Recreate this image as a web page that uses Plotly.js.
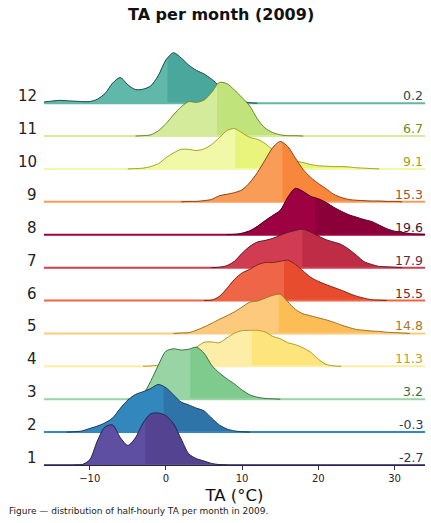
<!DOCTYPE html>
<html><head><meta charset="utf-8">
<script src="https://cdn.plot.ly/plotly-3.0.1.min.js"></script>
<style>html,body{margin:0;padding:0;background:#fff}#chart{width:431px;height:523px}</style>
</head><body><div id="chart"></div>
<script>
// Air temperature grid (°C) on which each month's density was read
const temps = [-16,-15,-14,-13,-12,-11,-10,-9,-8,-7,-6,-5,-4,-3,-2,-1,0,1,2,3,4,5,6,7,8,9,10,11,12,13,14,15,16,17,18,19,20,21,22,23,24,25,26,27,28,29,30,31,32,33,34];
const months = ["1","2","3","4","5","6","7","8","9","10","11","12"];
const meanTA = [-2.7,-0.3,3.2,11.3,14.8,15.5,17.9,19.6,15.3,9.1,6.7,0.2];

// Density of half-hourly TA, in % of the month's records per °C
const dens01 = [0,0,0,0,0,0.1,1.3,6.0,9.5,10.0,6.9,4.9,6.8,10.5,12.8,13.0,12.3,10.3,6.5,2.8,1.6,1.0,0.4,0.1,0,0,0,0,0,0,0,0,0,0,0,0,0,0,0,0,0,0,0,0,0,0,0,0,0,0,0];
const dens02 = [0,0,0,0,0.1,0.3,0.9,1.5,2.3,3.5,5.9,8.0,9.4,10.1,10.9,11.9,11.1,9.3,7.5,6.8,6.0,5.3,3.5,1.8,0.8,0.3,0.1,0,0,0,0,0,0,0,0,0,0,0,0,0,0,0,0,0,0,0,0,0,0,0,0];
const dens03 = [0,0,0,0,0,0,0,0,0,0,0,0,0.3,1.3,4.5,8.5,12.0,12.6,12.3,12.5,13.0,11.5,8.5,6.6,5.1,3.8,2.3,1.1,0.5,0.2,0.1,0,0,0,0,0,0,0,0,0,0,0,0,0,0,0,0,0,0,0,0];
const dens04 = [0,0,0,0,0,0,0,0,0,0,0,0,0,0,0.1,0.3,0.8,1.5,2.5,3.8,4.8,6.0,6.1,5.9,7.1,8.3,8.9,9.0,9.0,8.6,7.5,6.9,5.9,5.4,4.6,3.5,1.8,0.5,0.1,0,0,0,0,0,0,0,0,0,0,0,0];
const dens05 = [0,0,0,0,0,0,0,0,0,0,0,0,0,0,0,0,0,0,0.1,0.2,0.8,1.6,2.5,3.5,4.4,5.4,6.6,7.8,8.1,8.8,9.5,9.8,7.9,6.0,4.9,4.4,3.9,3.4,2.8,2.1,1.5,1.0,0.8,0.6,0.5,0.3,0.2,0.1,0,0,0];
const dens06 = [0,0,0,0,0,0,0,0,0,0,0,0,0,0,0,0,0,0,0,0,0,0,0.1,1.0,3.0,5.3,6.9,7.8,8.9,9.5,9.5,9.8,10.1,9.0,7.4,5.8,4.8,4.0,3.3,2.6,1.8,1.1,0.6,0.2,0.1,0,0,0,0,0,0];
const dens07 = [0,0,0,0,0,0,0,0,0,0,0,0,0,0,0,0,0,0,0,0,0,0,0,0.1,0.5,1.6,3.6,5.3,6.4,6.8,7.3,8.1,8.8,9.3,9.6,8.9,7.9,7.0,6.4,5.8,4.6,3.1,1.5,0.8,0.3,0.2,0.1,0,0,0,0];
const dens08 = [0,0,0,0,0,0,0,0,0,0,0,0,0,0,0,0,0,0,0,0,0,0,0,0,0,0.1,0.4,1.0,2.1,3.5,4.8,6.1,9.4,11.6,10.8,9.6,9.0,8.1,6.9,5.9,5.0,4.4,3.8,3.3,2.4,1.5,0.9,0.6,0.3,0.2,0.1];
const dens09 = [0,0,0,0,0,0,0,0,0,0,0,0,0,0,0,0,0,0,0,0.1,0.1,0.3,0.6,1.5,1.9,2.3,3.0,4.8,7.3,10.4,13.5,15.1,13.8,10.9,8.1,6.1,4.6,3.3,1.9,1.1,0.6,0.4,0.3,0.2,0.2,0.1,0.1,0,0,0,0];
const dens10 = [0,0,0,0,0,0,0,0,0,0,0,0,0.1,0.2,0.6,1.3,2.8,4.0,4.9,4.9,4.6,5.0,6.1,7.8,9.6,10.1,9.0,7.9,7.4,6.4,4.8,3.6,2.8,2.0,1.6,1.1,0.8,0.7,0.6,0.6,0.5,0.3,0.2,0.1,0,0,0,0,0,0,0];
const dens11 = [0,0,0,0,0,0,0,0,0,0,0,0,0,0.1,0.3,1.3,3.1,5.3,7.3,8.6,8.4,9.0,10.9,13.4,13.1,11.5,9.6,7.5,4.3,2.0,0.9,0.3,0.1,0.1,0,0,0,0,0,0,0,0,0,0,0,0,0,0,0,0,0];
const dens12 = [0.3,0.5,0.7,0.6,0.5,0.4,0.4,1.0,2.4,5.0,6.4,4.6,3.4,3.5,4.3,6.9,10.8,12.6,11.3,9.5,8.2,7.3,6.0,4.3,2.5,1.3,0.5,0.1,0,0,0,0,0,0,0,0,0,0,0,0,0,0,0,0,0,0,0,0,0,0,0];

const densities = [dens01,dens02,dens03,dens04,dens05,dens06,dens07,dens08,dens09,dens10,dens11,dens12];

// styling
const lightColors = ["#5e4fa2","#3288bd","#99d5a4","#feeda6","#fdca7d","#ef6548","#d23c52","#9e0142","#f99c58","#f1f8a8","#d3eb9a","#5fb8a9"];
const darkColors  = ["#534391","#2e74a8","#7ecb8d","#fee47c","#fcbc56","#e84c2e","#be2c46","#8b0039","#f8873b","#e9f47c","#c1e37b","#4aa79c"];
const lineColors  = ["#2a2547","#1d3a57","#3d7048","#b49c1e","#9a7224","#7a2616","#5e1a26","#4a0021","#8a4216","#9ea61c","#6a8a26","#1f4a46"];
const labelColors = ["#33304f","#24405e","#3a7043","#c0a02a","#a8782a","#7a2a25","#6b2a38","#4b1530","#a0522d","#a0a01a","#6b8e23","#2a4d4a"];

const K = 0.1216;      // rows per (%/°C)
const SM = 0.8;
const traces = [];
const annotations = [];
const tmin = temps[0], tmax = temps[temps.length-1];

for (let i = 11; i >= 0; i--) {
  const off = i;
  const d = densities[i];
  const yCurve = d.map(v => off + v * K);
  const base = temps.map(() => off);
  const common = {hoverinfo: 'skip', showlegend: false, mode: 'lines'};
  // full ridge (right/darker colour)
  traces.push(Object.assign({x: temps, y: base, line: {width: 0, color: 'rgba(0,0,0,0)'}}, common));
  traces.push(Object.assign({x: temps, y: yCurve, fill: 'tonexty', fillcolor: darkColors[i],
    line: {width: 0, color: 'rgba(0,0,0,0)', shape: 'spline', smoothing: SM}}, common));
  // left of mean (lighter colour)
  const m = meanTA[i];
  const lx = [], ly = [];
  for (let j = 0; j < temps.length; j++) {
    if (temps[j] < m) { lx.push(temps[j]); ly.push(yCurve[j]); }
    else {
      const t0 = temps[j-1], t1 = temps[j];
      const v = d[j-1] + (d[j] - d[j-1]) * (m - t0) / (t1 - t0);
      lx.push(m); ly.push(off + v * K);
      break;
    }
  }
  traces.push(Object.assign({x: [tmin, m], y: [off, off], line: {width: 0, color: 'rgba(0,0,0,0)'}}, common));
  traces.push(Object.assign({x: lx, y: ly, fill: 'tonexty', fillcolor: lightColors[i],
    line: {width: 0, color: 'rgba(0,0,0,0)', shape: 'spline', smoothing: SM}}, common));
  // baseline in ridge colour
  traces.push(Object.assign({x: [tmin, tmax], y: [off, off], line: {width: 2, color: lightColors[i]}}, common));
  // outline over the data range
  let a = 0, b = temps.length - 1;
  while (a < temps.length - 1 && d[a+1] === 0 && d[a] === 0) a++;
  while (b > 0 && d[b-1] === 0 && d[b] === 0) b--;
  traces.push(Object.assign({x: temps.slice(a, b+1), y: yCurve.slice(a, b+1),
    line: {width: 1, color: lineColors[i], shape: 'spline', smoothing: SM}}, common));

  annotations.push({xref: 'paper', yref: 'y', x: -0.012, y: off, xanchor: 'right', yanchor: 'bottom', yshift: -4,
    text: months[i], showarrow: false, font: {family: 'DejaVu Sans', size: 15, color: '#222'}});
  annotations.push({xref: 'paper', yref: 'y', x: 1.0, y: off, xanchor: 'right', yanchor: 'bottom', yshift: -2,
    text: meanTA[i].toFixed(1), showarrow: false, font: {family: 'DejaVu Sans', size: 12.5, color: labelColors[i]}});
}

annotations.push({xref: 'paper', yref: 'paper', x: -0.097, y: -0.108, xanchor: 'left', yanchor: 'middle',
  text: 'Figure — distribution of half-hourly TA per month in 2009.', showarrow: false,
  font: {family: 'DejaVu Sans', size: 9, color: '#222'}});

const layout = {
  width: 431, height: 523,
  margin: {l: 44, r: 6, t: 40, b: 58},
  paper_bgcolor: '#fff', plot_bgcolor: '#fff',
  showlegend: false,
  title: {text: '<b>TA per month (2009)</b>', x: 0.513, xref: 'container', xanchor: 'center',
          y: 0.973, yref: 'container', yanchor: 'middle',
          font: {family: 'DejaVu Sans', size: 16, color: '#111'}},
  xaxis: {range: [tmin, tmax], dtick: 10, tick0: 0, showgrid: false, zeroline: false,
          showline: true, linecolor: '#2a2838', linewidth: 1.2,
          ticks: 'outside', ticklen: 4, tickcolor: '#333', tickwidth: 1,
          tickfont: {family: 'DejaVu Sans', size: 10, color: '#222'},
          title: {text: 'TA (°C)', font: {family: 'DejaVu Sans', size: 16.5, color: '#111'}, standoff: 6}},
  yaxis: {range: [0, 12.92], visible: false, showgrid: false, zeroline: false, fixedrange: true},
  annotations: annotations
};

Plotly.newPlot('chart', traces, layout, {staticPlot: true, displayModeBar: false});
</script>
</body></html>
